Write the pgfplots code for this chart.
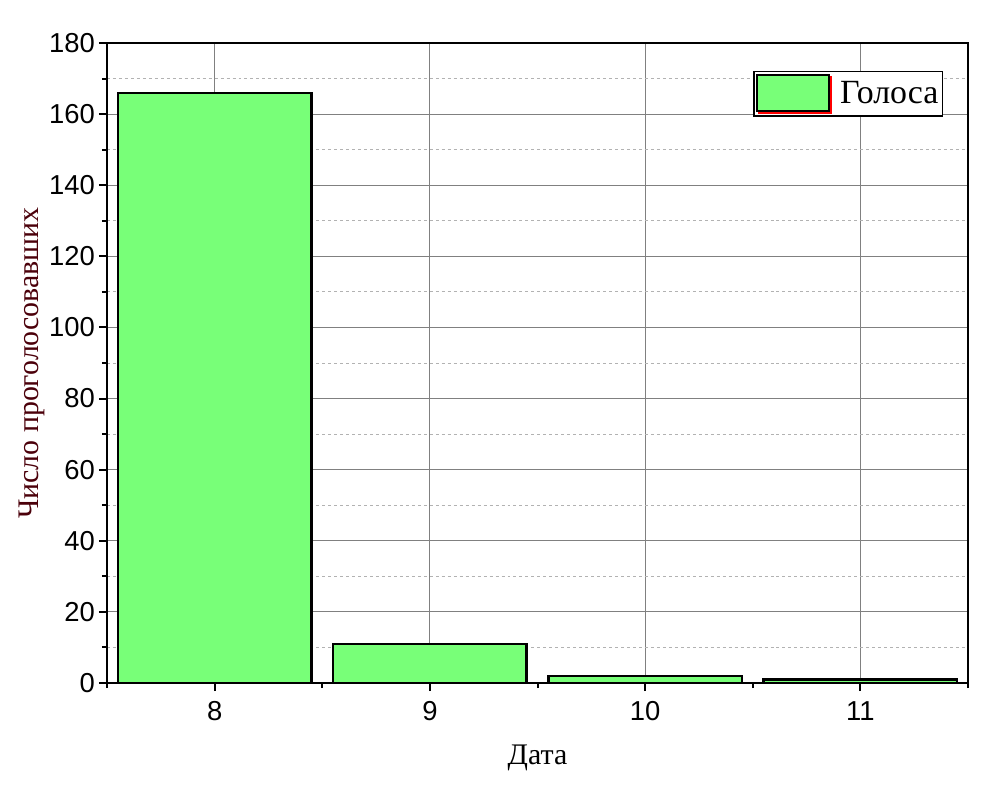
\documentclass[border=0pt]{standalone}
\usepackage{fontspec}
\setmainfont{Liberation Serif}
\newfontfamily\arial{Liberation Sans}
\usepackage{pgfplots}
\pgfplotsset{compat=1.18}
\definecolor{barg}{RGB}{120,255,120}
\definecolor{ylab}{RGB}{75,0,10}
\begin{document}
\begin{tikzpicture}
\begin{axis}[
  at={(0,0)}, anchor=south west,
  scale only axis, width=861bp, height=640bp,
  xmin=7.5, xmax=11.5, ymin=0, ymax=180,
  xtick={8,9,10,11}, minor xtick={7.5,8.5,9.5,10.5,11.5},
  ytick={0,20,...,180}, minor ytick={10,30,...,170},
  tick pos=left, tick align=outside,
  major tick length=8bp, minor tick length=5bp,
  tick style={black, line width=2bp},
  axis line style={line width=2.8bp},
  xmajorgrids, ymajorgrids, yminorgrids,
  major grid style={draw=gray, solid, line width=0.9bp},
  minor grid style={draw=black!30, dashed, line width=0.8bp},
  /pgf/number format/assume math mode=true,
  ticklabel style={font=\arial\fontsize{27.5}{27.5}\selectfont},
  yticklabel style={inner sep=4bp},
  xticklabel style={inner sep=4bp, yshift=-6bp},
  xlabel={Дата},
  xlabel style={at={(axis description cs:0.5,-0.097)}, anchor=north, inner sep=0pt, font=\fontsize{30}{30}\selectfont},
  ylabel={Число проголосовавших},
  ylabel style={at={(axis description cs:-0.072,0.5)}, anchor=south, inner sep=0pt, text=ylab, font=\fontsize{30}{30}\selectfont},
  legend style={at={(0.971,0.956)}, anchor=north east, draw=black, line width=1.2bp, inner sep=2bp,
    font=\fontsize{34}{34}\selectfont, legend cell align=left,
    /tikz/every odd column/.append style={column sep=6bp}},
]
\addplot[ybar, bar width=0.9, fill=barg, draw=black, line width=2.5bp,
  legend image code/.code={
    \fill[red] (2bp,-20bp) rectangle (74bp,16bp);
    \draw[fill=barg, draw=black, line width=2bp] (0bp,-18bp) rectangle (72bp,18bp);
  }] coordinates {(8,166) (9,11) (10,2) (11,1)};
\addlegendentry{Голоса}
\end{axis}
\path (-107bp,-104bp) rectangle (896bp,683bp);
\end{tikzpicture}
\end{document}
